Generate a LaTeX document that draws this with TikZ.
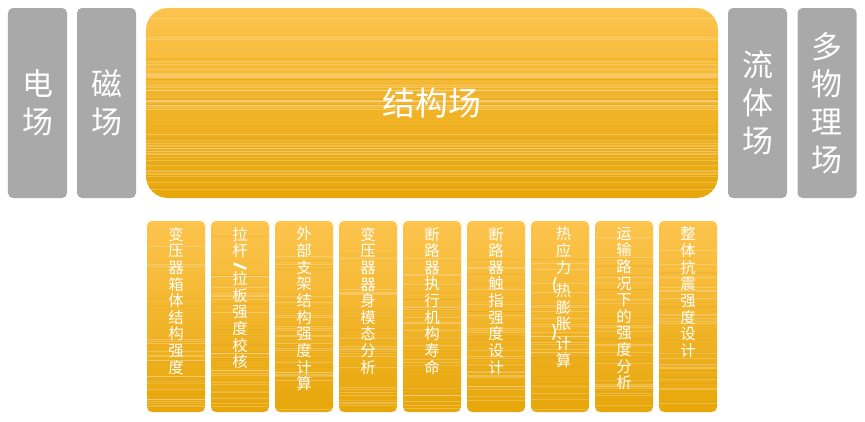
\documentclass[tikz,border=0pt]{standalone}
\usepackage{fontspec}
\newfontfamily\cjk[AutoFakeBold=2.5]{Noto Sans CJK SC}
\definecolor{boxgray}{RGB}{169,169,169}
\definecolor{otop}{RGB}{253,196,78}
\definecolor{omid}{RGB}{250,184,28}
\definecolor{obot}{RGB}{231,167,10}
\newcommand\vslash{\smash{\raisebox{7.2bp}{\rotatebox[origin=c]{-22}{\rule[-1.3bp]{13.5bp}{2.6bp}}}}}
\newcommand\vlp{\rlap{\hspace{-4bp}\smash{\raisebox{6.7bp}{\bfseries(}}}}
\newcommand\vrp{\rlap{\hspace{-4bp}\smash{\raisebox{13.3bp}{\bfseries)}}}}
\begin{document}
\begin{tikzpicture}[x=1bp,y=-1bp,
  graybox/.style={fill=boxgray, draw=none, rounded corners=5bp, inner sep=0pt,
    minimum width=59bp, minimum height=190bp, text=white, align=center,
    font=\cjk\fontsize{31}{38}\selectfont},
  bigbox/.style={top color=otop, middle color=omid, bottom color=obot, draw=none,
    rounded corners=22bp, inner sep=0pt, minimum width=572bp, minimum height=190bp},
  smallbox/.style={top color=otop, middle color=omid, bottom color=obot, draw=none,
    rounded corners=5bp, inner sep=0pt, minimum width=58bp, minimum height=191bp},
  smalltext/.style={text=white, align=center, inner sep=0pt,
    font=\cjk\fontsize{15.5}{16.7}\selectfont},
  stripelight/.style={white, opacity=0.22, line width=0.7bp},
  stripedark/.style={obot!80!brown, opacity=0.22, line width=0.6bp}]
\useasboundingbox (0,0) rectangle (865,421);
% gray side boxes
\node[graybox] (e1) at (37.5,103) {电\\场};
\node[graybox] (e2) at (106.5,103) {磁\\场};
\node[graybox] (e3) at (757.5,103) {流\\体\\场};
\node[graybox] (e4) at (827,103) {多\\物\\理\\场};
% big box
\node[bigbox] (big) at (432,103) {};
\begin{scope}
  \clip[rounded corners=22bp] (146,8) rectangle (718,198);
  \pgfmathsetseed{11}
  \foreach \k in {1,...,45}{
    \pgfmathsetmacro\yy{10+186*rnd^0.6}
    \draw[stripelight] (146,\yy) -- (718,\yy);
    \pgfmathsetmacro\yz{10+186*rnd^0.5}
    \draw[stripedark] (146,\yz) -- (718,\yz);
  }
\end{scope}
\node[text=white, font=\cjk\fontsize{33}{38}\selectfont, inner sep=0pt] (bigt) at (big.center) {结构场};
% bottom boxes
\foreach \i/\dx/\t in {0/0/{变\\压\\器\\箱\\体\\结\\构\\强\\度},
                   1/0/{拉\\杆\\\vslash\\[-5.5bp]拉\\板\\强\\度\\校\\核},
                   2/0/{外\\部\\支\\架\\结\\构\\强\\度\\计\\算},
                   3/0/{变\\压\\器\\器\\身\\模\\态\\分\\析},
                   4/0/{断\\路\\器\\执\\行\\机\\构\\寿\\命},
                   5/0/{断\\路\\器\\触\\指\\强\\度\\设\\计},
                   6/3.5/{热\\应\\力\\[6.7bp]\vlp 热\\膨\\胀\\[3.3bp]\vrp 计\\算},
                   7/0/{运\\输\\路\\况\\下\\的\\强\\度\\分\\析},
                   8/0/{整\\体\\抗\\震\\强\\度\\设\\计}}{
  \pgfmathsetmacro\xc{176+64*\i}
  \node[smallbox] (b\i) at (\xc,316.5) {};
  \begin{scope}
    \clip[rounded corners=5bp] (b\i.north west) rectangle (b\i.south east);
    \pgfmathsetseed{3+\i}
    \foreach \k in {1,...,22}{
      \pgfmathsetmacro\yy{223+187*rnd^0.6}
      \draw[stripelight] (\xc-30,\yy) -- (\xc+30,\yy);
      \pgfmathsetmacro\yz{223+187*rnd^0.5}
      \draw[stripedark] (\xc-30,\yz) -- (\xc+30,\yz);
    }
  \end{scope}
  \node[smalltext, anchor=north] (t\i) at ([yshift=-6bp, xshift=\dx bp]b\i.north) {\t};
}
\end{tikzpicture}
\end{document}
